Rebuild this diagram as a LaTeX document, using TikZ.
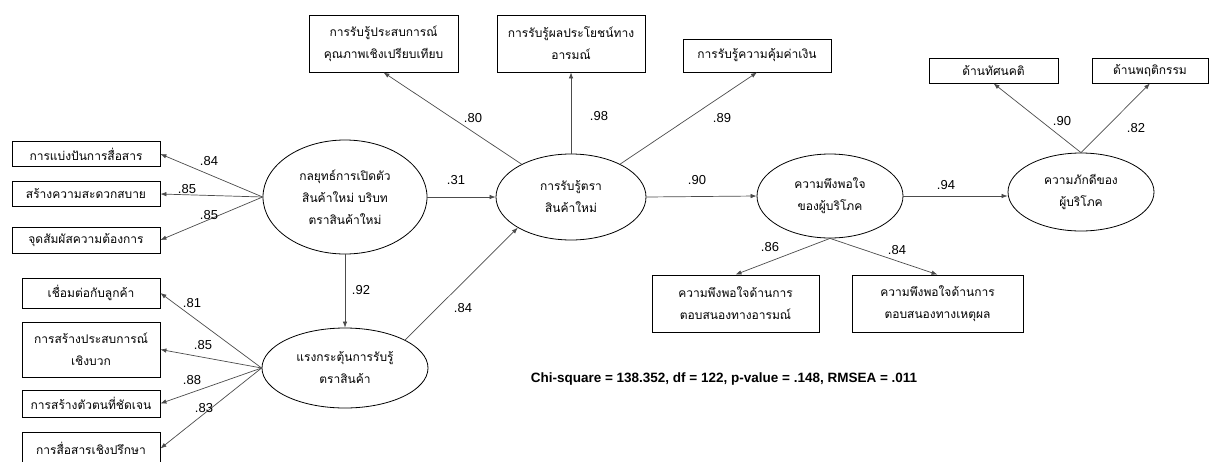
\documentclass[tikz,border=0pt]{standalone}
\usepackage{fontspec}
\setmainfont{Liberation Sans}
\newfontfamily\thaifont[Script=Thai]{Loma}
\usetikzlibrary{shapes.geometric,arrows.meta}
\tikzset{
  thaitext/.style={font=\thaifont\fontsize{12}{22}\selectfont},
  box/.style={draw=black, line width=0.8pt, rectangle, inner sep=0pt, align=center, thaitext},
  latent/.style={draw=black, line width=0.8pt, ellipse, inner sep=0pt, align=center, thaitext},
  conn/.style={draw=black!70, line width=0.7pt, -{Latex[length=6pt,width=4.5pt]}},
  coef/.style={font=\fontsize{13}{15}\selectfont, inner sep=0pt},
  fitstat/.style={font=\bfseries\fontsize{13.5}{15}\selectfont, inner sep=0pt}
}
\begin{document}
\begin{tikzpicture}[x=1pt,y=-1pt]
\useasboundingbox (0,0) rectangle (1209,461);
\clip (0,0) rectangle (1209,461);
\fill[white] (0,0) rectangle (1209,461);

% left upper indicators
\node[box, minimum width=148pt, minimum height=25pt] (l1) at (86,154) {การแบ่งปันการสื่อสาร};
\node[box, minimum width=148pt, minimum height=25pt] (l2) at (86,194) {สร้างความสะดวกสบาย};
\node[box, minimum width=148pt, minimum height=26pt] (l3) at (86,240) {จุดสัมผัสความต้องการ};

% left lower indicators
\node[box, minimum width=138pt, minimum height=30pt] (m1) at (91,293) {เชื่อมต่อกับลูกค้า};
\node[box, minimum width=138pt, minimum height=55pt] (m2) at (91,349.5) {การสร้างประสบการณ์\\เชิงบวก};
\node[box, minimum width=138pt, minimum height=27pt] (m3) at (91,403.5) {การสร้างตัวตนที่ชัดเจน};
\node[box, minimum width=138pt, minimum height=33pt] (m4) at (91,448.5) {การสื่อสารเชิงปรึกษา};

% top indicators
\node[box, minimum width=149pt, minimum height=57pt] (t1) at (383.5,43.5) {การรับรู้ประสบการณ์\\คุณภาพเชิงเปรียบเทียบ};
\node[box, minimum width=148pt, minimum height=57pt] (t2) at (571,43.5) {การรับรู้ผลประโยชน์ทาง\\อารมณ์};
\node[box, minimum width=148pt, minimum height=33pt] (t3) at (757,55.5) {การรับรู้ความคุ้มค่าเงิน};

% top right indicators
\node[box, minimum width=129pt, minimum height=25pt] (r1) at (993.5,70.5) {ด้านทัศนคติ};
\node[box, minimum width=116pt, minimum height=25pt] (r2) at (1150,70.5) {ด้านพฤติกรรม};

% bottom indicators
\node[box, minimum width=167pt, minimum height=57pt] (b1) at (735.5,303.5) {ความพึงพอใจด้านการ\\ตอบสนองทางอารมณ์};
\node[box, minimum width=171pt, minimum height=57pt] (b2) at (937.5,303.5) {ความพึงพอใจด้านการ\\ตอบสนองทางเหตุผล};

% latent variables
\node[latent, minimum width=164pt, minimum height=114pt] (e1) at (345,197) {กลยุทธ์การเปิดตัว\\สินค้าใหม่ บริบท\\ตราสินค้าใหม่};
\node[latent, minimum width=166pt, minimum height=80pt] (e2) at (345,368) {แรงกระตุ้นการรับรู้\\ตราสินค้า};
\node[latent, minimum width=150pt, minimum height=86pt] (e3) at (571,197) {การรับรู้ตรา\\สินค้าใหม่};
\node[latent, minimum width=146pt, minimum height=84pt] (e4) at (830,196) {ความพึงพอใจ\\ของผู้บริโภค};
\node[latent, minimum width=146pt, minimum height=78pt] (e5) at (1081,192) {ความภักดีของ\\ผู้บริโภค};

% connectors
\draw[conn] (e1.west) -- (l1.east);
\draw[conn] (e1.west) -- (l2.east);
\draw[conn] (e1.west) -- (l3.east);
\draw[conn] (e2.west) -- (m1.east);
\draw[conn] (e2.west) -- (m2.east);
\draw[conn] (e2.west) -- (m3.east);
\draw[conn] (e2.west) -- (m4.east);
\draw[conn] (e1.south) -- (e2.north);
\draw[conn] (e1.east) -- (e3.west);
\draw[conn] (e2.25) -- (e3.210);
\draw[conn] (e3) -- (t1.south);
\draw[conn] (e3) -- (t2);
\draw[conn] (e3) -- (t3.south);
\draw[conn] (e3.east) -- (e4.west);
\draw[conn] (e4.east) -- (e4.east -| e5.west);
\draw[conn] (e4.south) -- (b1.north);
\draw[conn] (e4.south) -- (b2.north);
\draw[conn] (e5.north) -- (r1.south);
\draw[conn] (e5.north) -- (r2.south);

% coefficients
\node[coef] (c1) at (209,161) {.84};
\node[coef] (c2) at (187,189) {.85};
\node[coef] (c3) at (209,215) {.85};
\node[coef] (c4) at (192,303) {.81};
\node[coef] (c5) at (203,345) {.85};
\node[coef] (c6) at (192,380) {.88};
\node[coef] (c7) at (204,408) {.83};
\node[coef] (c8) at (361,290) {.92};
\node[coef] (c9) at (456,180) {.31};
\node[coef] (c10) at (463,308) {.84};
\node[coef] (c11) at (473,118) {.80};
\node[coef] (c12) at (599,116) {.98};
\node[coef] (c13) at (722,118) {.89};
\node[coef] (c14) at (697,180) {.90};
\node[coef] (c15) at (946,185) {.94};
\node[coef] (c16) at (1062,121) {.90};
\node[coef] (c17) at (1136,128) {.82};
\node[coef] (c18) at (770,247) {.86};
\node[coef] (c19) at (897,250) {.84};

% fit statistics
\node[fitstat] (stats) at (724,379) {Chi-square = 138.352, df = 122, p-value = .148, RMSEA = .011};
\end{tikzpicture}
\end{document}
